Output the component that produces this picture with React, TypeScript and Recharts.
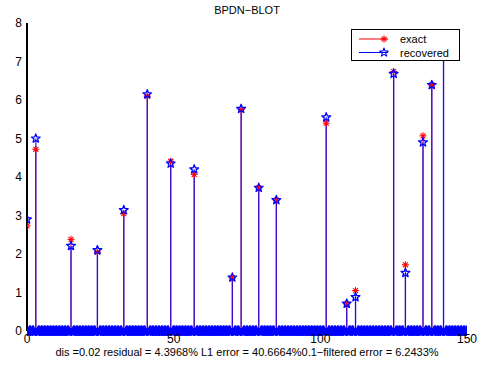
import React from "react";
import {
  ComposedChart,
  Scatter,
  XAxis,
  YAxis,
  ReferenceLine,
} from "recharts";

// sparse signal: positions of the non-zero entries and their amplitudes
const spikeIdx = [0, 3, 15, 24, 33, 41, 49, 57, 70, 73, 79, 85, 102, 109, 112, 125, 129, 135, 138, 142];
const exactVals = [2.73, 4.72, 2.38, 2.05, 3.05, 6.1, 4.41, 4.07, 1.38, 5.75, 3.72, 3.4, 5.4, 0.7, 1.05, 6.74, 1.72, 5.07, 6.4, 7.6];
const recoveredVals = [2.9, 5.0, 2.21, 2.1, 3.14, 6.15, 4.35, 4.2, 1.39, 5.77, 3.72, 3.4, 5.55, 0.71, 0.88, 6.68, 1.51, 4.9, 6.39, 7.6];
const signalLength = 151;

const xTicks = [0, 50, 100, 150];
const yTicks = [0, 1, 2, 3, 4, 5, 6, 7, 8];

const title = "BPDN−BLOT";
const caption =
  "dis =0.02 residual = 4.3968% L1 error = 40.6664%0.1−filtered error = 6.2433%";

const FONT = "'Liberation Sans', Arial, sans-serif";
const RED = "#ff0000";
const BLUE = "#0000ff";

const buildSeries = (vals: number[]) =>
  Array.from({ length: signalLength }, (_, i) => {
    const k = spikeIdx.indexOf(i);
    return { x: i, y: k >= 0 ? vals[k] : 0 };
  });

const exactData = buildSeries(exactVals);
const recoveredData = buildSeries(recoveredVals);

const Asterisk = ({ cx, cy, r = 3.5 }: any) => {
  const d = r * 0.7071;
  return (
    <g stroke={RED} strokeWidth={1.1}>
      <line x1={cx - r} y1={cy} x2={cx + r} y2={cy} />
      <line x1={cx} y1={cy - r} x2={cx} y2={cy + r} />
      <line x1={cx - d} y1={cy - d} x2={cx + d} y2={cy + d} />
      <line x1={cx - d} y1={cy + d} x2={cx + d} y2={cy - d} />
    </g>
  );
};

const Pentagram = ({ cx, cy, r = 4.6, sw = 1.3, fill = "none" }: any) => {
  const pts: string[] = [];
  for (let i = 0; i < 10; i++) {
    const a = -Math.PI / 2 + (i * Math.PI) / 5;
    const rr = i % 2 === 0 ? r : r * 0.42;
    pts.push(`${cx + rr * Math.cos(a)},${cy + rr * Math.sin(a)}`);
  }
  return <polygon points={pts.join(" ")} fill={fill} stroke={BLUE} strokeWidth={sw} strokeLinejoin="round" />;
};

// zero entries pile up along the baseline into a solid run of markers
const RecoveredMarker = (p: any) =>
  p.payload && p.payload.y === 0 ? (
    <Pentagram cx={p.cx} cy={p.cy} r={4.3} sw={3} fill={BLUE} />
  ) : (
    <Pentagram cx={p.cx} cy={p.cy} />
  );

const noTick = () => <g />;

const LegendBox = () => (
  <div
    style={{
      position: "absolute",
      left: 351,
      top: 29,
      width: 107,
      height: 30,
      border: "1px solid #000",
      background: "#fff",
    }}
  >
    <svg width={107} height={30} style={{ position: "absolute", left: 0, top: 0 }}>
      <line x1={7} y1={9} x2={36} y2={9} stroke={RED} />
      <Asterisk cx={32} cy={9} />
      <line x1={7} y1={22.5} x2={36} y2={22.5} stroke={BLUE} />
      <Pentagram cx={32} cy={22.5} r={4.5} sw={1.1} />
      <text x={48} y={13} fontFamily={FONT} fontSize={11}>exact</text>
      <text x={48} y={26.5} fontFamily={FONT} fontSize={11}>recovered</text>
    </svg>
  </div>
);

export default function App() {
  return (
    <div
      style={{
        position: "absolute",
        left: 0,
        top: 0,
        width: 478,
        height: 367,
        background: "#fff",
        fontFamily: FONT,
      }}
    >
      <div
        style={{
          position: "absolute",
          left: 27,
          width: 440,
          top: 4,
          textAlign: "center",
          fontSize: 11,
          lineHeight: "13px",
        }}
      >
        {title}
      </div>
      <ComposedChart
        width={478}
        height={367}
        margin={{ top: 23, right: 11, bottom: 16, left: 0 }}
      >
        <XAxis
          xAxisId="b"
          dataKey="x"
          type="number"
          domain={[0, 150]}
          ticks={xTicks}
          allowDataOverflow
          height={20}
          tickSize={0}
          tickMargin={3}
          axisLine={{ stroke: "#000" }}
          tick={{ fill: "#000", fontSize: 12, fontFamily: FONT }}
        />
        <XAxis
          xAxisId="t"
          orientation="top"
          dataKey="x"
          type="number"
          domain={[0, 150]}
          ticks={xTicks}
          height={0}
          tickSize={-4}
          tick={noTick}
          axisLine={{ stroke: "#000" }}
          tickLine={{ stroke: "#000" }}
        />
        <YAxis
          yAxisId="l"
          type="number"
          domain={[0, 8]}
          ticks={yTicks}
          width={27}
          tickSize={0}
          tickMargin={5}
          axisLine={{ stroke: "#000", strokeWidth: 2 }}
          tick={{ fill: "#000", fontSize: 12, fontFamily: FONT }}
        />
        <YAxis
          yAxisId="r"
          orientation="right"
          type="number"
          domain={[0, 8]}
          ticks={yTicks}
          width={0}
          tickSize={-4}
          tick={noTick}
          axisLine={{ stroke: "#000" }}
          tickLine={{ stroke: "#000" }}
        />
        {spikeIdx.map((x, i) => (
          <ReferenceLine
            key={`e${x}`}
            xAxisId="b"
            yAxisId="l"
            segment={[{ x, y: 0 }, { x, y: exactVals[i] }]}
            stroke={RED}
            strokeWidth={1}
          />
        ))}
        {spikeIdx.map((x, i) => (
          <ReferenceLine
            key={`r${x}`}
            xAxisId="b"
            yAxisId="l"
            segment={[{ x, y: 0 }, { x, y: recoveredVals[i] }]}
            stroke={BLUE}
            strokeWidth={1.4}
            strokeOpacity={0.75}
          />
        ))}
        <Scatter
          xAxisId="b"
          yAxisId="l"
          data={exactData}
          dataKey="y"
          isAnimationActive={false}
          shape={(p: any) => <Asterisk cx={p.cx} cy={p.cy} />}
        />
        <Scatter
          xAxisId="b"
          yAxisId="l"
          data={recoveredData}
          dataKey="y"
          isAnimationActive={false}
          shape={RecoveredMarker}
        />
      </ComposedChart>
      <LegendBox />
      <div
        style={{
          position: "absolute",
          left: 0,
          width: 494,
          top: 346,
          textAlign: "center",
          fontSize: 11,
          lineHeight: "12px",
        }}
      >
        {caption}
      </div>
    </div>
  );
}
